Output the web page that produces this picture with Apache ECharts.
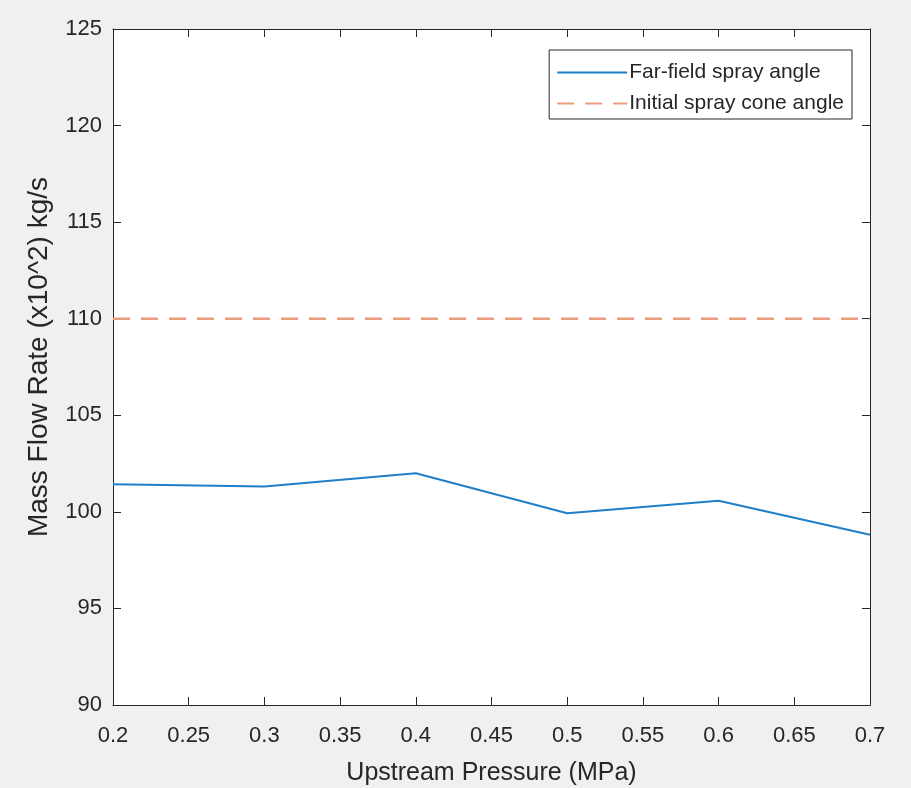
<!DOCTYPE html>
<html><head><meta charset="utf-8">
<script src="https://cdn.jsdelivr.net/npm/echarts@6/dist/echarts.min.js"></script>
<style>html,body{margin:0;padding:0;background:#f0f0f0;}#c{width:911px;height:788px;}</style>
</head><body><div id="c"></div>
<script>
const pressure = [0.2, 0.3, 0.4, 0.5, 0.6, 0.7];
const farField = [101.43, 101.31, 102.0, 99.93, 100.58, 98.81];
const initialCone = [110, 110, 110, 110, 110, 110];
const seriesNames = ['Far-field spray angle', 'Initial spray cone angle'];
const xTitle = 'Upstream Pressure (MPa)';
const yTitle = 'Mass Flow Rate (x10^2) kg/s';

const font = 'Liberation Sans';
const fmt = v => String(Math.round(v * 100) / 100);
const chart = echarts.init(document.getElementById('c'));
const axisLineStyle = { color: '#262626', width: 1 };
chart.setOption({
  backgroundColor: '#f0f0f0',
  animation: false,
  grid: { left: 113, right: 41, top: 29, bottom: 83, show: true, backgroundColor: '#ffffff', borderWidth: 0, outerBoundsMode: 'none', containLabel: false },
  legend: {
    right: 59, top: 50,
    orient: 'vertical',
    backgroundColor: '#ffffff',
    borderColor: '#262626', borderWidth: 1, borderRadius: 0,
    padding: [12, 8, 5, 7],
    itemGap: 10,
    itemWidth: 70, itemHeight: 14,
    itemStyle: { opacity: 0 },
    textStyle: { fontFamily: font, fontSize: 21, color: '#262626', padding: [0, 0, 0, -3] },
    data: seriesNames
  },
  xAxis: [{
    type: 'value', min: 0.2, max: 0.7, interval: 0.05,
    name: xTitle, nameLocation: 'middle', nameGap: 56,
    nameTextStyle: { fontFamily: font, fontSize: 25, color: '#262626' },
    axisLine: { show: true, lineStyle: axisLineStyle },
    axisTick: { show: true, inside: true, length: 8, lineStyle: axisLineStyle },
    axisLabel: { fontFamily: font, fontSize: 22, color: '#262626', margin: 20, formatter: fmt },
    splitLine: { show: false }
  }, {
    type: 'value', min: 0.2, max: 0.7, interval: 0.05, position: 'top',
    axisLine: { show: true, lineStyle: axisLineStyle },
    axisTick: { show: true, inside: true, length: 8, lineStyle: axisLineStyle },
    axisLabel: { show: false }, splitLine: { show: false }
  }],
  yAxis: [{
    type: 'value', min: 90, max: 125, interval: 5,
    name: yTitle, nameLocation: 'middle', nameGap: 60, nameRotate: 90,
    nameTextStyle: { fontFamily: font, fontSize: 28, color: '#262626', padding: [0, 0, 0, 20] },
    axisLine: { show: true, lineStyle: axisLineStyle },
    axisTick: { show: true, inside: true, length: 8, lineStyle: axisLineStyle },
    axisLabel: { fontFamily: font, fontSize: 22, color: '#262626', margin: 11 },
    splitLine: { show: false }
  }, {
    type: 'value', min: 90, max: 125, interval: 5, position: 'right',
    axisLine: { show: true, lineStyle: axisLineStyle },
    axisTick: { show: true, inside: true, length: 8, lineStyle: axisLineStyle },
    axisLabel: { show: false }, splitLine: { show: false }
  }],
  series: [{
    name: seriesNames[0], type: 'line', showSymbol: false, symbol: 'none',
    data: pressure.map((p, i) => [p, farField[i]]),
    lineStyle: { color: '#1f7fc8', width: 2 }, itemStyle: { color: '#1f7fc8' }
  }, {
    name: seriesNames[1], type: 'line', showSymbol: false, symbol: 'none',
    data: pressure.map((p, i) => [p, initialCone[i]]),
    lineStyle: { color: '#EB9C7E', width: 2.5, type: [17, 11] }, itemStyle: { color: '#EB9C7E' }
  }]
});
</script></body></html>
